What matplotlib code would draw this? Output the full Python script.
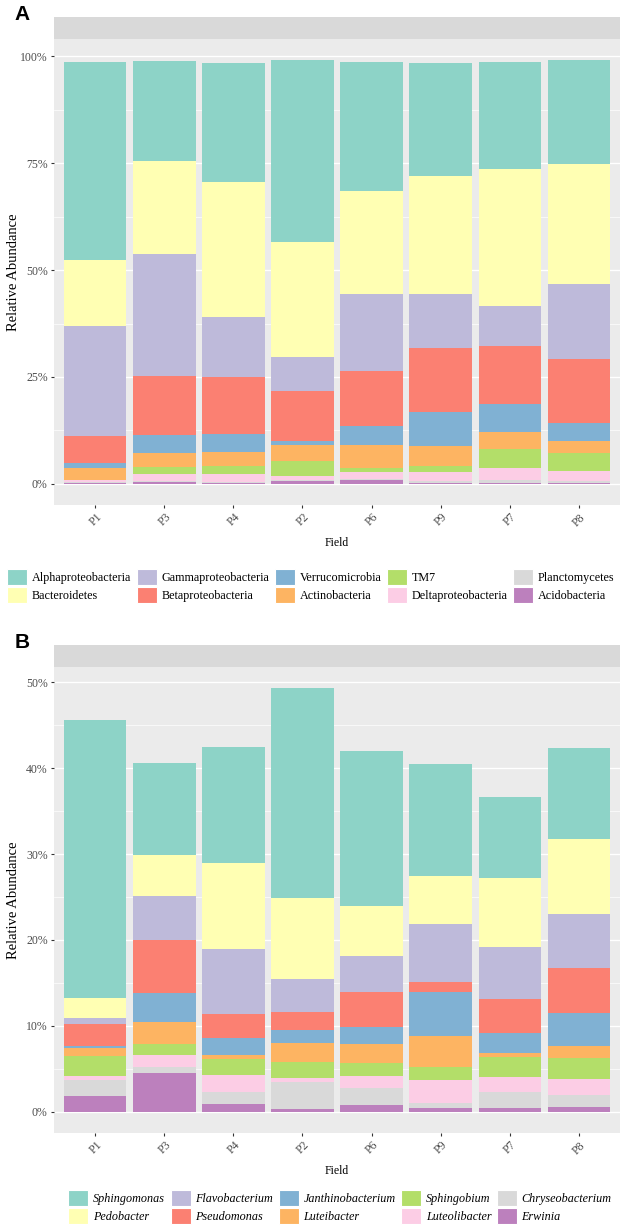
import matplotlib.pyplot as plt
from matplotlib.patches import Patch
from matplotlib.ticker import MultipleLocator, PercentFormatter

fields = ['P1', 'P3', 'P4', 'P2', 'P6', 'P9', 'P7', 'P8']

# panel A, relative abundance (%) - listed top of stack first
phyla = ['Alphaproteobacteria', 'Bacteroidetes', 'Gammaproteobacteria', 'Betaproteobacteria',
         'Verrucomicrobia', 'Actinobacteria', 'TM7', 'Deltaproteobacteria',
         'Planctomycetes', 'Acidobacteria']
alphaproteo = [46.3, 23.4, 27.8, 42.5, 30.2, 26.6, 25.1, 24.4]
bacteroidetes = [15.3, 21.9, 31.6, 27.0, 24.2, 27.4, 32.1, 27.9]
gammaproteo = [25.9, 28.4, 14.1, 8.0, 18.0, 12.7, 9.2, 17.6]
betaproteo = [6.2, 13.9, 13.3, 11.6, 12.8, 15.0, 13.7, 14.9]
verrucomicrobia = [1.1, 4.2, 4.3, 0.9, 4.5, 8.0, 6.5, 4.2]
actinobacteria = [2.9, 3.3, 3.2, 3.8, 5.2, 4.7, 3.9, 3.0]
tm7 = [0.1, 1.5, 2.0, 3.5, 1.1, 1.3, 4.5, 4.0]
deltaproteo = [0.4, 1.8, 1.7, 0.9, 1.6, 2.2, 2.9, 2.5]
planctomycetes = [0.2, 0.2, 0.2, 0.3, 0.2, 0.3, 0.5, 0.3]
acidobacteria = [0.2, 0.4, 0.3, 0.6, 0.9, 0.3, 0.3, 0.3]

# panel B, genus level
genera = ['Sphingomonas', 'Pedobacter', 'Flavobacterium', 'Pseudomonas',
          'Janthinobacterium', 'Luteibacter', 'Sphingobium', 'Luteolibacter',
          'Chryseobacterium', 'Erwinia']
sphingomonas = [32.3, 10.7, 13.55, 24.45, 18.1, 13.1, 9.4, 10.6]
pedobacter = [2.35, 4.74, 9.95, 9.35, 5.73, 5.6, 8.06, 8.72]
flavobacterium = [0.75, 5.16, 7.6, 3.9, 4.19, 6.66, 6.02, 6.25]
pseudomonas = [2.55, 6.14, 2.86, 2.13, 4.16, 1.16, 3.96, 5.28]
janthinobacterium = [0.24, 3.46, 1.94, 1.47, 1.94, 5.13, 2.29, 3.8]
luteibacter = [0.89, 2.48, 0.51, 2.18, 2.21, 3.61, 0.54, 1.44]
sphingobium = [2.33, 1.28, 1.78, 1.94, 1.52, 1.55, 2.33, 2.44]
luteolibacter = [0.54, 1.44, 2.06, 0.46, 1.39, 2.64, 1.75, 1.83]
chryseobacterium = [1.83, 0.66, 1.36, 3.11, 2.02, 0.62, 1.86, 1.36]
erwinia = [1.82, 4.54, 0.89, 0.31, 0.74, 0.43, 0.39, 0.58]

colors = ['#8DD3C7', '#FFFFB3', '#BEBADA', '#FB8072', '#80B1D3',
          '#FDB462', '#B3DE69', '#FCCDE5', '#D9D9D9', '#BC80BD']

serif = 'Liberation Serif'
W, H = 628, 1231


def px_box(left, top, right, bottom):
    return [left / W, 1 - bottom / H, (right - left) / W, (bottom - top) / H]


def panel(fig, top, names, series, step, letter, legend_y, legend_x, italic):
    strip = fig.add_axes(px_box(54, top - 22, 620, top))
    strip.set_facecolor('#D9D9D9')
    strip.set_xticks([])
    strip.set_yticks([])
    for s in strip.spines.values():
        s.set_visible(False)

    bottom_px = top + 466
    ax = fig.add_axes(px_box(54, top, 620, bottom_px))
    ax.set_facecolor('#EBEBEB')
    for s in ax.spines.values():
        s.set_visible(False)

    x = range(len(fields))
    base = [0.0] * len(fields)
    handles = {}
    # stack from the last name (bottom) up to the first (top)
    for name, vals, col in reversed(list(zip(names, series, colors))):
        ax.bar(x, vals, width=0.9, bottom=base, color=col, linewidth=0, zorder=3)
        base = [b + v for b, v in zip(base, vals)]
        handles[name] = Patch(facecolor=col, edgecolor='white', linewidth=0.8)

    total = max(base)
    ax.set_xlim(-0.6, len(fields) - 0.4)
    ax.set_ylim(-0.05 * total, 1.05 * total)
    ax.yaxis.set_major_locator(MultipleLocator(step))
    ax.yaxis.set_minor_locator(MultipleLocator(step / 2))
    ax.yaxis.set_major_formatter(PercentFormatter(decimals=0))
    ax.grid(axis='y', which='major', color='white', linewidth=1.0, zorder=0)
    ax.grid(axis='y', which='minor', color='white', linewidth=0.5, zorder=0)
    ax.set_axisbelow(True)
    ax.set_xticks(list(x))
    ax.set_xticklabels(fields, rotation=45, ha='center', fontfamily=serif)
    ax.tick_params(axis='both', which='major', length=2.5, width=0.8, color='#333333',
                   labelcolor='#4D4D4D', labelsize=8.5, pad=2)
    ax.tick_params(axis='y', which='minor', length=0)
    for lab in ax.get_yticklabels():
        lab.set_fontfamily(serif)

    fig.text(14 / W, 1 - (top + bottom_px) / 2 / H, 'Relative Abundance', rotation=90,
             ha='center', va='center', fontsize=10.5, fontfamily=serif)
    fig.text(337 / W, 1 - (bottom_px + 38) / H, 'Field', ha='center', va='center',
             fontsize=8.5, fontfamily=serif)
    fig.text(22 / W, 1 - (top - 19) / H, letter, ha='center', va='baseline',
             fontsize=15, fontweight='bold', fontfamily='Liberation Sans')

    fig.legend([handles[n] for n in names], names, ncol=5, loc='center',
               bbox_to_anchor=(legend_x / W, 1 - legend_y / H), frameon=False,
               handlelength=1.65, handleheight=1.65, handletextpad=0.4,
               columnspacing=0.45, labelspacing=0.1,
               prop={'family': serif, 'size': 8.7,
                     'style': 'italic' if italic else 'normal'})
    return ax


fig = plt.figure(figsize=(W / 100, H / 100), dpi=100)

panel(fig, 39, phyla,
      [alphaproteo, bacteroidetes, gammaproteo, betaproteo, verrucomicrobia,
       actinobacteria, tm7, deltaproteo, planctomycetes, acidobacteria],
      25, 'A', 586, 311, False)
panel(fig, 667, genera,
      [sphingomonas, pedobacter, flavobacterium, pseudomonas, janthinobacterium,
       luteibacter, sphingobium, luteolibacter, chryseobacterium, erwinia],
      10, 'B', 1207, 340, True)

fig.savefig('out.png', dpi=100)
